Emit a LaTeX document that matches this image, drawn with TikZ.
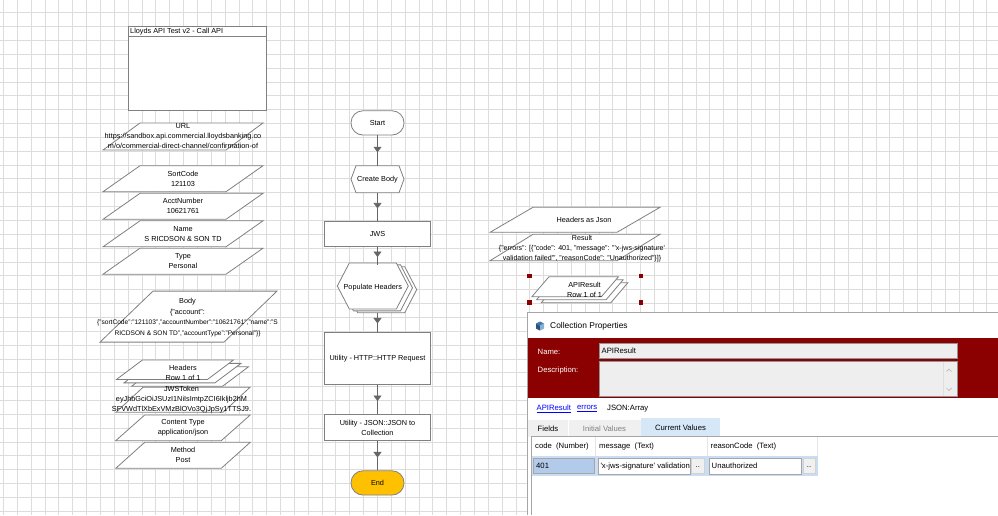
\documentclass[tikz,border=0pt]{standalone}
\usepackage{fontspec}
\setmainfont{Liberation Sans}
\usetikzlibrary{arrows.meta,decorations.markings,calc}
\definecolor{gridgray}{HTML}{DCDCDC}
\definecolor{edgegray}{HTML}{808080}
\definecolor{linkgray}{HTML}{666666}
\definecolor{endyellow}{HTML}{FFC000}
\definecolor{bpred}{HTML}{8B0000}
\definecolor{fieldgray}{HTML}{EEEEEE}
\definecolor{tabgray}{HTML}{F0F0F0}
\definecolor{tabblue}{HTML}{D6E8F8}
\definecolor{rowblue}{HTML}{CADDF2}
\definecolor{cellblue}{HTML}{B3CBEA}
\definecolor{hyper}{HTML}{0000FF}
\definecolor{iconblue}{HTML}{3C78B4}
\newcommand{\dsize}{\fontsize{7.3}{10}\selectfont}
\newcommand{\wsize}{\fontsize{7.7}{9}\selectfont}
\tikzset{
  gridline/.style={gridgray,line width=0.9pt},
  shapeline/.style={draw=edgegray,line width=0.8pt,fill=white},
  datatxt/.style={font=\dsize,align=center,inner sep=0pt},
  procbox/.style={shapeline,font=\dsize,align=center,minimum width=106.7,inner sep=0pt},
  termbox/.style={shapeline,font=\dsize,rounded corners=12,minimum width=53,minimum height=24.3,inner sep=0pt},
  flowtxt/.style={font=\dsize,inner sep=0pt},
  flowlink/.style={draw=linkgray,line width=0.8pt,postaction={decorate},
    decoration={markings,mark=at position 0.56 with {\arrow[linkgray]{Triangle[length=5.5pt,width=8pt]}}}},
  wintxt/.style={font=\wsize,inner sep=0pt,anchor=west},
  fieldbox/.style={draw=gray!85,fill=fieldgray,line width=0.8pt},
  cellbox/.style={draw=gray!70,fill=white,line width=0.6pt},
  dotbtn/.style={draw=gray!35,fill=tabgray,line width=0.6pt},
}
% parallelogram: cx, cy, width, height, slant
\newcommand{\para}[5]{%
  \draw[shapeline] ({#1-(#3)/2+(#5)/2},{#2-(#4)/2}) -- ({#1+(#3)/2+(#5)/2},{#2-(#4)/2})
    -- ({#1+(#3)/2-(#5)/2},{#2+(#4)/2}) -- ({#1-(#3)/2-(#5)/2},{#2+(#4)/2}) -- cycle;}
% data item: name, cx, cy, width, height, slant, text x, text
\newcommand{\dataitem}[8]{%
  \para{#2}{#3}{#4}{#5}{#6}
  \node[datatxt] (#1) at (#7,#3) {#8};}
% collection: three parallelograms, cx, cy, width, height, slant, dx, dy
\newcommand{\stack}[7]{%
  \para{#1+2*(#6)}{#2+2*(#7)}{#3}{#4}{#5}
  \para{#1+#6}{#2+#7}{#3}{#4}{#5}
  \para{#1}{#2}{#3}{#4}{#5}}
% hexagon: cx, cy, width, height, inset
\newcommand{\hexa}[5]{%
  \draw[shapeline] ({#1-(#3)/2},{#2}) -- ({#1-(#3)/2+(#5)},{#2-(#4)/2}) -- ({#1+(#3)/2-(#5)},{#2-(#4)/2})
    -- ({#1+(#3)/2},{#2}) -- ({#1+(#3)/2-(#5)},{#2+(#4)/2}) -- ({#1-(#3)/2+(#5)},{#2+(#4)/2}) -- cycle;}

\begin{document}
\begin{tikzpicture}[x=1pt,y=-1pt]
  \useasboundingbox (0,0) rectangle (998,515);
  \fill[white] (0,0) rectangle (998,515);
  \foreach \gx in {0,...,71} \draw[gridline] ({3.5+13.85*\gx},0) -- ({3.5+13.85*\gx},515);
  \foreach \gy in {1,...,37} \draw[gridline] (0,{-1.15+13.85*\gy}) -- (998,{-1.15+13.85*\gy});

  % page info box
  \draw[shapeline] (128.3,26) rectangle (266.7,110);
  \draw[edgegray,line width=0.8pt] (128.3,36.7) -- (266.7,36.7);
  \node[datatxt,anchor=west] (pagetitle) at (130,31.5) {Lloyds API Test v2 - Call API};

  % data items
  \dataitem{url}{183}{136.5}{123}{27}{37}{183}{URL\\https://sandbox.api.commercial.lloydsbanking.co\\m/o/commercial-direct-channel/confirmation-of}
  \dataitem{sortcode}{183}{178.7}{123}{26}{37}{183}{SortCode\\121103}
  \dataitem{acctnum}{183}{206.3}{123}{26}{37}{183}{AcctNumber\\10621761}
  \dataitem{name}{183}{233.8}{123}{26}{37}{183}{Name\\S RICDSON \& SON TD}
  \dataitem{type}{183}{261.2}{123}{26}{37}{183}{Type\\Personal}
  \para{188.5}{316.6}{124}{51}{53}
  \node[datatxt,font=\fontsize{7.3}{10.4}\selectfont] (body) at (187.5,317.5) {Body\\\{"account":\\{\fontsize{6.6}{10.4}\selectfont\{"sortCode":"121103","accountNumber":"10621761","name":"S}\\{\fontsize{6.6}{10.4}\selectfont RICDSON \& SON TD","accountType":"Personal"\}\}}};
  \stack{175}{369.7}{91}{19.5}{26}{7.5}{3.4}
  \node[datatxt] (headers) at (183,373) {Headers\\Row 1 of 1};
  \dataitem{jwstoken}{183}{399.8}{107}{25}{27}{181.5}{JWSToken\\eyJhbGciOiJSUzI1NiIsImtpZCI6Ikljb2hM\\SFVWdTlXbExVMzBlOVo3QjJpSy1TTSJ9.}
  \dataitem{ctype}{183}{427.8}{105.5}{25.7}{29}{183}{Content Type\\application/json}
  \dataitem{method}{183}{455.3}{105.5}{26}{29}{183}{Method\\Post}

  % main flow
  \node[termbox] (start) at (377.5,122.9) {Start};
  \hexa{377.5}{179.2}{53}{27}{5}
  \node[flowtxt,minimum width=53,minimum height=27] (createbody) at (377.5,179.2) {Create Body};
  \node[procbox,minimum height=25.7] (jws) at (377.5,233.9) {JWS};
  \hexa{372.8+8.4}{286+3.7}{71}{46}{12}
  \hexa{372.8+4.2}{286+1.85}{71}{46}{12}
  \hexa{372.8}{286}{71}{46}{12}
  \node[flowtxt,minimum width=71,minimum height=46] (populate) at (372.8,288) {Populate Headers};
  \coordinate (popout) at (377.5,312.7);
  \node[procbox,minimum height=52] (httpreq) at (377.5,358.3) {Utility - HTTP::HTTP Request};
  \node[procbox,minimum height=26.4] (jsoncoll) at (377.5,427.5) {Utility - JSON::JSON to\\Collection};
  \node[termbox,fill=endyellow] (stop) at (377.5,482.9) {End};

  \draw[flowlink] (start) -- (createbody);
  \draw[flowlink] (createbody) -- (jws);
  \draw[flowlink] (jws) -- (jws |- populate.north);
  \draw[flowlink] (popout) -- (httpreq);
  \draw[flowlink] (httpreq) -- (jsoncoll);
  \draw[flowlink] (jsoncoll) -- (stop);

  % right data items
  \dataitem{hdrjson}{575}{219.8}{127}{25}{43}{584}{Headers as Json}
  \para{575}{247.5}{127}{26.4}{43}
  \node[datatxt,font=\fontsize{7.1}{10}\selectfont] (result) at (582,248.2) {Result\\\{"errors": [\{"code": 401, "message": "\textquotesingle x-jws-signature\textquotesingle\\validation failed\textquotesingle", "reasonCode": "Unauthorized"\}]\}};
  \stack{575.2}{286.7}{69.5}{20}{17.1}{4.7}{3}
  \node[datatxt] (apiresult) at (584.5,289.6) {APIResult\\Row 1 of 1};
  \foreach \hx/\hy in {529.3/276,641/276,529.3/302.7,641/302.7}
    \fill[bpred] ({\hx-2.3},{\hy-2.3}) rectangle ({\hx+2.3},{\hy+2.3});

  % collection properties window
  \fill[white] (527,312) rectangle (998,515);
  \draw[gray!70,line width=0.8pt] (527,515) -- (527,312) -- (998,312);
  \fill[iconblue] (536,323.5) -- (540,321.5) -- (544,323.5) -- (540,325.5) -- cycle;
  \fill[iconblue!70!black] (536,323.5) -- (540,325.5) -- (540,330.5) -- (536,328.5) -- cycle;
  \fill[iconblue!60!white] (544,323.5) -- (540,325.5) -- (540,330.5) -- (544,328.5) -- cycle;
  \node[wintxt,font=\fontsize{8.4}{9}\selectfont] (wintitle) at (550,326.5) {Collection Properties};
  \fill[bpred] (527.7,338.3) rectangle (998,397.7);
  \node[wintxt,white] (namelbl) at (537.5,351.5) {Name:};
  \node[wintxt,white] (desclbl) at (537.5,370.5) {Description:};
  \draw[fieldbox] (599,343.7) rectangle (957,358.3);
  \node[wintxt] (nameval) at (601.5,351.2) {APIResult};
  \draw[fieldbox] (599,361.7) rectangle (957,396.2);
  \draw[gray!25,line width=0.8pt] (943.3,362.3) -- (943.3,395.6);
  \draw[gray!55,line width=0.7pt] (946.5,371.5) -- (949,369) -- (951.5,371.5);
  \draw[gray!55,line width=0.7pt] (946.5,388) -- (949,390.5) -- (951.5,388);

  \node[wintxt,text=hyper] (lnkapi) at (536.5,408.5) {\underline{APIResult}};
  \node[wintxt,text=hyper] (lnkerr) at (577,408.5) {\underline{errors}};
  \node[wintxt] (arraytype) at (607,408.5) {JSON:Array};

  \fill[tabgray] (528,420) rectangle (641,436.7);
  \draw[white,line width=0.8pt] (568,420) -- (568,436.7);
  \fill[tabblue] (641,418.3) rectangle (720,436.7);
  \node[font=\wsize,inner sep=0pt] (tabfields) at (548,428.5) {Fields};
  \node[font=\wsize,inner sep=0pt,text=gray] (tabinit) at (604.5,428.5) {Initial Values};
  \node[font=\wsize,inner sep=0pt] (tabcur) at (680.5,427.5) {Current Values};

  \draw[gray!70,line width=0.8pt] (531,515) -- (531,436.7) -- (998,436.7);
  \foreach \sx in {595.7,707.3,817.7} \draw[gray!20,line width=0.8pt] (\sx,437.3) -- (\sx,456);
  \node[wintxt] (hdcode) at (535,446.5) {code~~(Number)};
  \node[wintxt] (hdmsg) at (599,446.5) {message~~(Text)};
  \node[wintxt] (hdreason) at (710.5,446.5) {reasonCode~~(Text)};

  \fill[rowblue] (531.5,456) rectangle (818,475.5);
  \draw[cellbox,fill=cellblue] (533,458.7) rectangle (594,473.3);
  \node[wintxt] (codecell) at (536,466) {401};
  \draw[cellbox] (598.7,458) rectangle (690,474);
  \begin{scope}
    \clip (599.2,458.5) rectangle (689.5,473.5);
    \node[wintxt] (msgcell) at (600.3,466) {\textquotesingle x-jws-signature\textquotesingle\ validation};
  \end{scope}
  \draw[dotbtn] (691.7,458.5) rectangle (704,473.5);
  \node[font=\wsize,inner sep=0pt] (msgbtn) at (697.8,467) {..};
  \draw[cellbox] (709,458) rectangle (801.7,474);
  \node[wintxt] (reasoncell) at (711.5,466) {Unauthorized};
  \draw[dotbtn] (803,458.5) rectangle (815.3,473.5);
  \node[font=\wsize,inner sep=0pt] (reasonbtn) at (809.1,467) {..};
\end{tikzpicture}
\end{document}
